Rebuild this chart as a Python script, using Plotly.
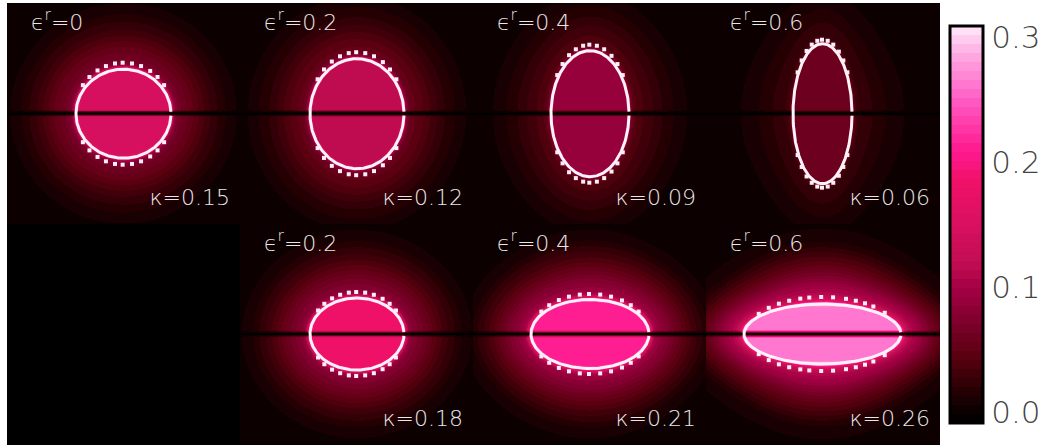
import numpy as np
import plotly.graph_objects as go

W, H = 1046, 446
FONT = "DejaVu Sans"

# panels: column, row, eps label, kappa (interior level), ellipse semi-axes, dotted outline semi-axes
panel_col = [0, 1, 2, 3, 1, 2, 3]
panel_row = [0, 0, 0, 0, 1, 1, 1]
eps_labels = ["0", "0.2", "0.4", "0.6", "0.2", "0.4", "0.6"]
kappa_vals = [0.15, 0.12, 0.09, 0.06, 0.18, 0.21, 0.26]
kappa_labels = ["0.15", "0.12", "0.09", "0.06", "0.18", "0.21", "0.26"]
semi_a = [47.5, 47, 39, 29.5, 47, 59, 78.5]
semi_b = [44.5, 55, 63, 70, 36, 34.5, 30]
dots_a = [49, 47.5, 39.5, 30, 47, 58.7, 76]
dots_b = [51, 61.5, 69, 74, 42, 40, 37]
dot_angles = [-56, -44, -32, -21, -10, -1, 10, 21, 33, 44, 56]
dot_angles_wide = [-57, -45, -35, -26, -17, -10, -1, 8, 18, 26, 34, 42, 55]

col_edges = [7, 240, 473, 706, 940]
row_edges = [3, 224, 445]
centre_x = [123.5, 357, 590, 822.5]
centre_y = [113.7, 334]

# field outside the ellipse, relative to kappa, against distance in pixels
out_dist = [0, 1.5, 3, 5, 8, 12, 20, 30, 40, 50, 60, 70, 85, 110]
out_gain = [1.4, 0.95, 0.68, 0.52, 0.45, 0.41, 0.35, 0.26, 0.18, 0.12, 0.06, 0.03, 0.015, 0.0]
in_dist = [0, 1.5, 3]
in_gain = [1.4, 1.1, 1.0]
line_dist = [0, 1, 2, 3, 4]
line_gain = [0.0, 0.2, 0.45, 0.85, 1.0]

# colour bar
bar_min, bar_max = -0.008, 0.309
bar_ticks = [0.0, 0.1, 0.2, 0.3]
bar_labels = ["0.0", "0.1", "0.2", "0.3"]
cmap_vals = [-0.008, 0.0, 0.02, 0.045, 0.07, 0.1, 0.12, 0.15, 0.184, 0.21, 0.25, 0.29, 0.309]
cmap_cols = ["#000000", "#080000", "#2a0004", "#5a0010", "#7a0028", "#a50045", "#c20d52",
             "#d8105f", "#f01068", "#ff1a90", "#ff5cc4", "#ffb4e6", "#ffeafa"]
n_bands = 44


def hex_rgb(h):
    return [int(h[i:i + 2], 16) for i in (1, 3, 5)]


rgb = np.array([hex_rgb(c) for c in cmap_cols], float)
scale = []
for i in range(n_bands):
    v = bar_min + (i + 0.5) / n_bands * (bar_max - bar_min)
    c = [int(round(np.interp(v, cmap_vals, rgb[:, k]))) for k in range(3)]
    s = f"rgb({c[0]},{c[1]},{c[2]})"
    scale += [[i / n_bands, s], [(i + 1) / n_bands, s]]

fig = go.Figure()
layout = {}
shapes = [dict(type="rect", xref="paper", yref="paper", x0=col_edges[0] / W, x1=col_edges[-1] / W,
               y0=1 - row_edges[-1] / H, y1=1 - row_edges[0] / H,
               fillcolor="black", line_width=0, layer="below")]
label_font = dict(family=FONT, size=22, color="#e8e8e8", weight=200)
bare_axis = dict(showticklabels=False, showgrid=False, zeroline=False, showline=False, ticks="", fixedrange=True)

for i in range(7):
    c, r = panel_col[i], panel_row[i]
    xl, xr = col_edges[c], col_edges[c + 1]
    yt, yb = row_edges[r], row_edges[r + 1]
    cx, cy = centre_x[c], centre_y[r]
    a, b, k = semi_a[i], semi_b[i], kappa_vals[i]
    name = "" if i == 0 else str(i + 1)
    axes = dict(xaxis=f"x{name}", yaxis=f"y{name}", hoverinfo="skip", showlegend=False)
    layout[f"xaxis{name}"] = dict(domain=[xl / W, xr / W], range=[xl - cx, xr - cx],
                                  anchor=f"y{name}", **bare_axis)
    layout[f"yaxis{name}"] = dict(domain=[1 - yb / H, 1 - yt / H], range=[cy - yb, cy - yt],
                                  anchor=f"x{name}", **bare_axis)
    xs = np.arange(xl, xr) + 0.5 - cx
    ys = np.arange(yt, yb) + 0.5 - cy
    X, Y = np.meshgrid(xs, ys)
    rho = np.sqrt((X / a) ** 2 + (Y / b) ** 2)
    dist = np.abs(rho - 1) * np.hypot(X, Y) / np.maximum(rho, 1e-6)
    Z = np.where(rho >= 1, np.interp(dist, out_dist, out_gain), np.interp(dist, in_dist, in_gain)) * k
    Z = Z * np.interp(np.abs(Y), line_dist, line_gain)
    fig.add_trace(go.Heatmap(x=xs, y=ys, z=Z.round(4), coloraxis="coloraxis", **axes))
    # centre line
    fig.add_trace(go.Scatter(x=[xl - cx, xr - cx], y=[0, 0], mode="lines",
                             line=dict(color="black", width=2), **axes))
    # ellipse, with the small gap at the right-hand crossing
    gap = 2.0 / b
    t = np.linspace(gap, 2 * np.pi - gap, 240)
    fig.add_trace(go.Scatter(x=a * np.cos(t), y=b * np.sin(t), mode="lines",
                             line=dict(color="#fff2f9", width=3), **axes))
    # dots above and below
    ang = np.radians(dot_angles_wide if i == 6 else dot_angles)
    dx = dots_a[i] * np.sin(ang)
    dy = dots_b[i] * np.cos(ang)
    fig.add_trace(go.Scatter(x=np.r_[dx, dx], y=np.r_[dy, -dy], mode="markers",
                             marker=dict(symbol="square", size=4, color="#ffeef8", line_width=0), **axes))
    # panel labels
    fig.add_trace(go.Scatter(x=[xl + 24 - cx], y=[cy - (yt + 21)], mode="text",
                             text=[f"ϵ<sup>r</sup>={eps_labels[i]}"], textposition="middle right",
                             textfont=label_font, cliponaxis=False, **axes))
    fig.add_trace(go.Scatter(x=[xr - 10 - cx], y=[cy - (yt + 196)], mode="text",
                             text=[f"κ={kappa_labels[i]}"], textposition="middle left",
                             textfont=label_font, cliponaxis=False, **axes))

fig.update_layout(
    width=W, height=H, margin=dict(l=0, r=0, t=0, b=0), autosize=False,
    paper_bgcolor="white", plot_bgcolor="rgba(0,0,0,0)", showlegend=False,
    shapes=shapes,
    coloraxis=dict(cmin=bar_min, cmax=bar_max, colorscale=scale,
                   colorbar=dict(x=949.5 / W, xanchor="left", xpad=0, ypad=0, y=1 - 25.5 / H, yanchor="top",
                                 lenmode="pixels", len=397, thickness=33, thicknessmode="pixels",
                                 outlinecolor="black", outlinewidth=3, ticks="", tickvals=bar_ticks,
                                 ticktext=bar_labels,
                                 tickfont=dict(family=FONT, size=31, color="#444", weight=200))),
    **layout,
)
fig.write_html("out.html", post_script="document.body.style.margin='0';",
               config=dict(displayModeBar=False))
